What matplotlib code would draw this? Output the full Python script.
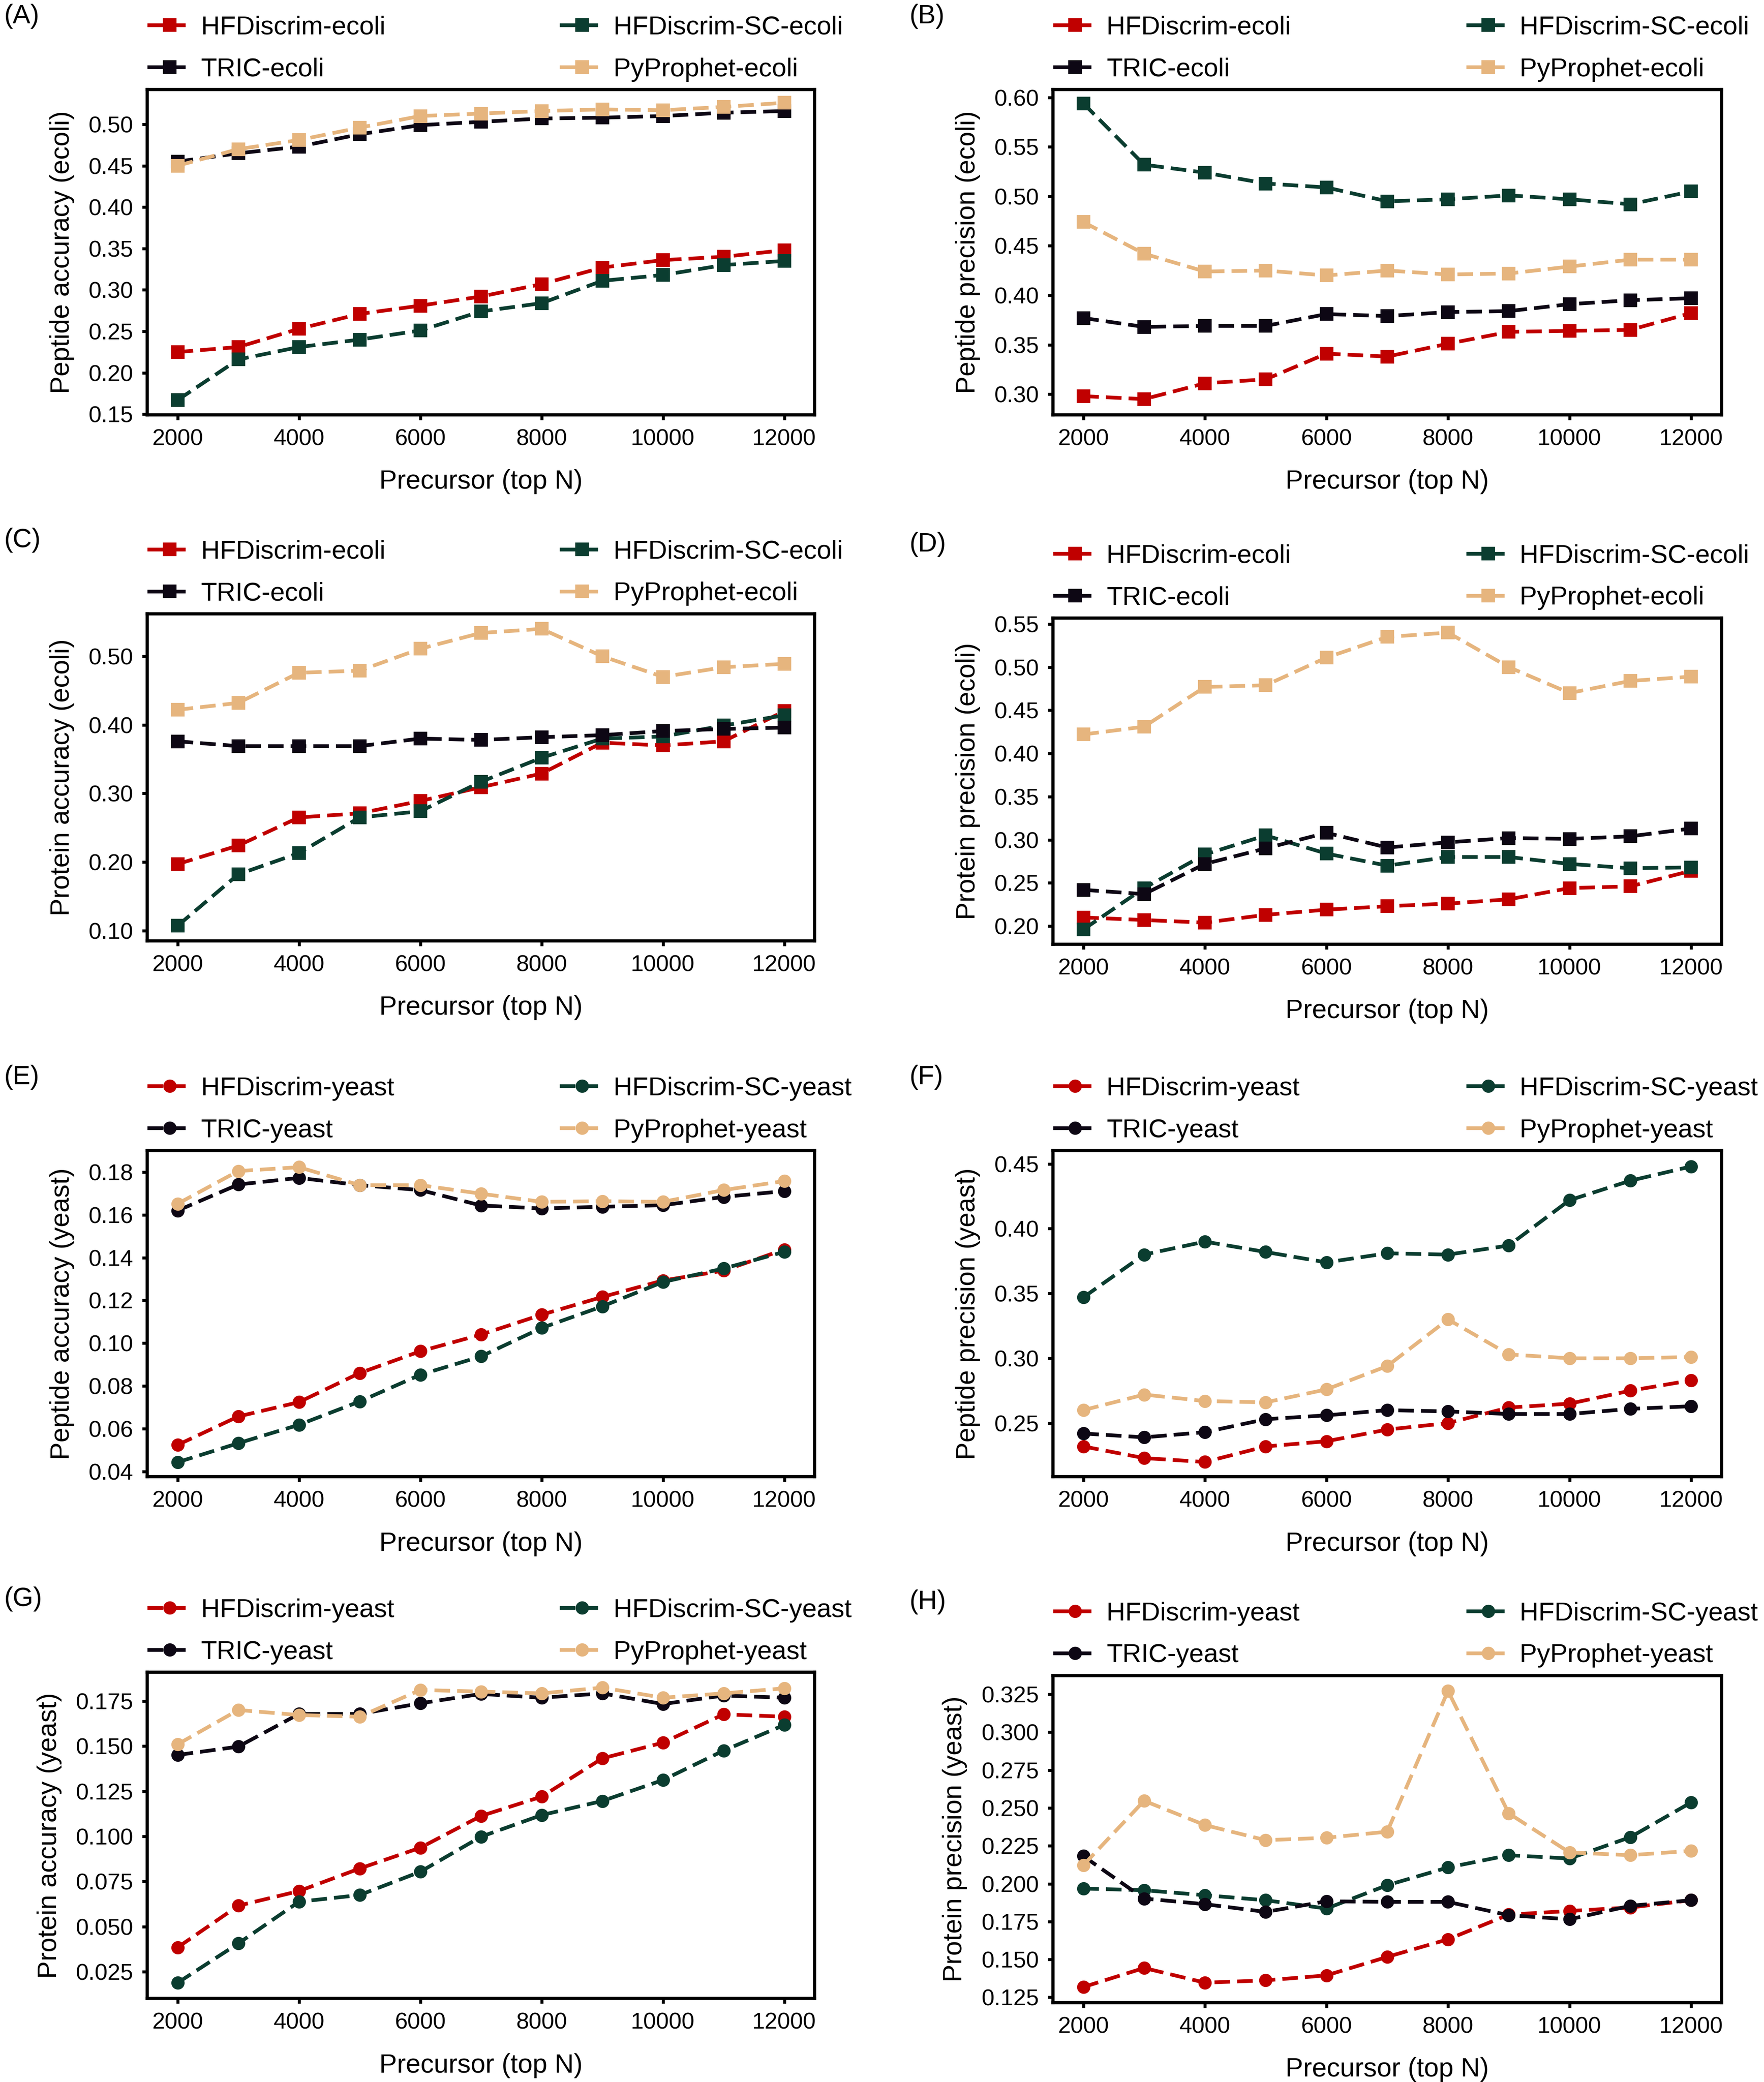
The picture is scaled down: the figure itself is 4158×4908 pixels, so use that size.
import numpy as np
import matplotlib
matplotlib.use("Agg")
import matplotlib.pyplot as plt
from matplotlib.ticker import FormatStrFormatter


plt.rcParams['font.family'] = ['Liberation Sans', 'DejaVu Sans']

# Eixo x comum
precursor = [2000, 3000, 4000, 5000, 6000, 7000, 8000, 9000, 10000, 11000, 12000]

# (A) Peptide accuracy (ecoli)
a_hf = [0.225, 0.231, 0.253, 0.271, 0.281, 0.292, 0.307, 0.327, 0.336, 0.340, 0.348]
a_sc = [0.167, 0.216, 0.231, 0.240, 0.251, 0.274, 0.284, 0.311, 0.318, 0.330, 0.335]
a_tric = [0.455, 0.465, 0.473, 0.488, 0.499, 0.503, 0.507, 0.508, 0.510, 0.514, 0.516]
a_py = [0.450, 0.470, 0.481, 0.496, 0.510, 0.513, 0.516, 0.518, 0.517, 0.521, 0.526]

# (B) Peptide precision (ecoli)
b_hf = [0.298, 0.295, 0.311, 0.315, 0.341, 0.338, 0.351, 0.363, 0.364, 0.365, 0.382]
b_sc = [0.594, 0.532, 0.524, 0.513, 0.509, 0.495, 0.497, 0.501, 0.497, 0.492, 0.505]
b_tric = [0.377, 0.368, 0.369, 0.369, 0.381, 0.379, 0.383, 0.384, 0.391, 0.395, 0.397]
b_py = [0.474, 0.442, 0.424, 0.425, 0.420, 0.425, 0.421, 0.422, 0.429, 0.436, 0.436]

# (C) Protein accuracy (ecoli)
c_hf = [0.197, 0.224, 0.265, 0.271, 0.289, 0.309, 0.329, 0.374, 0.370, 0.376, 0.420]
c_sc = [0.107, 0.182, 0.213, 0.265, 0.274, 0.317, 0.352, 0.380, 0.383, 0.399, 0.414]
c_tric = [0.376, 0.369, 0.369, 0.369, 0.380, 0.378, 0.382, 0.385, 0.391, 0.394, 0.396]
c_py = [0.422, 0.432, 0.476, 0.479, 0.511, 0.534, 0.540, 0.500, 0.470, 0.484, 0.489]

# (D) Protein precision (ecoli)
d_hf = [0.210, 0.207, 0.204, 0.213, 0.219, 0.223, 0.226, 0.231, 0.244, 0.246, 0.264]
d_sc = [0.196, 0.244, 0.283, 0.305, 0.284, 0.270, 0.280, 0.280, 0.272, 0.267, 0.268]
d_tric = [0.242, 0.237, 0.272, 0.290, 0.308, 0.291, 0.297, 0.302, 0.301, 0.304, 0.313]
d_py = [0.422, 0.431, 0.477, 0.479, 0.511, 0.535, 0.540, 0.500, 0.470, 0.484, 0.489]

# (E) Peptide accuracy (yeast)
e_hf = [0.0524, 0.0657, 0.0724, 0.0860, 0.0962, 0.1040, 0.1133, 0.1216, 0.1293, 0.1339, 0.1438]
e_sc = [0.0443, 0.0532, 0.0618, 0.0727, 0.0852, 0.0938, 0.1071, 0.1172, 0.1286, 0.1349, 0.1427]
e_tric = [0.1620, 0.1742, 0.1773, 0.1739, 0.1716, 0.1644, 0.1630, 0.1638, 0.1645, 0.1684, 0.1711]
e_py = [0.1652, 0.1805, 0.1823, 0.1739, 0.1739, 0.1699, 0.1661, 0.1664, 0.1661, 0.1716, 0.1758]

# (F) Peptide precision (yeast)
f_hf = [0.232, 0.223, 0.220, 0.232, 0.236, 0.245, 0.250, 0.262, 0.265, 0.275, 0.283]
f_sc = [0.347, 0.380, 0.390, 0.382, 0.374, 0.381, 0.380, 0.387, 0.422, 0.437, 0.448]
f_tric = [0.242, 0.239, 0.243, 0.253, 0.256, 0.260, 0.259, 0.257, 0.257, 0.261, 0.263]
f_py = [0.260, 0.272, 0.267, 0.266, 0.276, 0.294, 0.330, 0.303, 0.300, 0.300, 0.301]

# (G) Protein accuracy (yeast)
g_hf = [0.0385, 0.0616, 0.0697, 0.0822, 0.0937, 0.1113, 0.1220, 0.1432, 0.1519, 0.1676, 0.1663]
g_sc = [0.0189, 0.0407, 0.0638, 0.0675, 0.0804, 0.0998, 0.1118, 0.1196, 0.1312, 0.1475, 0.1617]
g_tric = [0.1451, 0.1497, 0.1678, 0.1678, 0.1737, 0.1789, 0.1768, 0.1792, 0.1733, 0.1780, 0.1768]
g_py = [0.1510, 0.1700, 0.1672, 0.1663, 0.1811, 0.1802, 0.1792, 0.1824, 0.1768, 0.1792, 0.1820]

# (H) Protein precision (yeast)
h_hf = [0.1318, 0.1444, 0.1347, 0.1362, 0.1395, 0.1517, 0.1633, 0.1796, 0.1820, 0.1843, 0.1891]
h_sc = [0.1968, 0.1957, 0.1924, 0.1891, 0.1836, 0.1990, 0.2107, 0.2188, 0.2166, 0.2307, 0.2536]
h_tric = [0.2182, 0.1902, 0.1865, 0.1814, 0.1884, 0.1880, 0.1880, 0.1792, 0.1765, 0.1854, 0.1891]
h_py = [0.2122, 0.2547, 0.2387, 0.2287, 0.2303, 0.2343, 0.3272, 0.2464, 0.2206, 0.2188, 0.2217]

# Cores das series
cor_hf = '#C00000'
cor_sc = '#0B3D30'
cor_tric = '#0D0714'
cor_py = '#E6B57E'

# Configuracao de cada painel: letra, dados, rotulo, especie, marcador, limites, ticks, formato
paineis = [
    ('(A)', a_hf, a_sc, a_tric, a_py, 'Peptide accuracy (ecoli)', 'ecoli', 's',
     (0.149, 0.542), np.arange(0.15, 0.501, 0.05), '%.2f'),
    ('(B)', b_hf, b_sc, b_tric, b_py, 'Peptide precision (ecoli)', 'ecoli', 's',
     (0.279, 0.608), np.arange(0.30, 0.601, 0.05), '%.2f'),
    ('(C)', c_hf, c_sc, c_tric, c_py, 'Protein accuracy (ecoli)', 'ecoli', 's',
     (0.085, 0.562), np.arange(0.10, 0.501, 0.10), '%.2f'),
    ('(D)', d_hf, d_sc, d_tric, d_py, 'Protein precision (ecoli)', 'ecoli', 's',
     (0.179, 0.557), np.arange(0.20, 0.551, 0.05), '%.2f'),
    ('(E)', e_hf, e_sc, e_tric, e_py, 'Peptide accuracy (yeast)', 'yeast', 'o',
     (0.0375, 0.1901), np.arange(0.04, 0.181, 0.02), '%.2f'),
    ('(F)', f_hf, f_sc, f_tric, f_py, 'Peptide precision (yeast)', 'yeast', 'o',
     (0.2086, 0.4603), np.arange(0.25, 0.451, 0.05), '%.2f'),
    ('(G)', g_hf, g_sc, g_tric, g_py, 'Protein accuracy (yeast)', 'yeast', 'o',
     (0.0102, 0.1909), np.arange(0.025, 0.176, 0.025), '%.3f'),
    ('(H)', h_hf, h_sc, h_tric, h_py, 'Protein precision (yeast)', 'yeast', 'o',
     (0.1215, 0.3373), np.arange(0.125, 0.326, 0.025), '%.3f'),
]

# Posicoes dos eixos na figura (left, bottom, width, height)
posicoes = [
    [0.0835, 0.8007, 0.3783, 0.1563],
    [0.5969, 0.8007, 0.3790, 0.1563],
    [0.0835, 0.5481, 0.3783, 0.1571],
    [0.5969, 0.5465, 0.3790, 0.1567],
    [0.0835, 0.2907, 0.3783, 0.1567],
    [0.5969, 0.2907, 0.3790, 0.1567],
    [0.0835, 0.0401, 0.3783, 0.1567],
    [0.5969, 0.0381, 0.3790, 0.1571],
]


def desenhar_painel(ax, cfg):
    letra, hf, sc, tric, py, ylabel, especie, marcador, ylim, yticks, fmt = cfg
    estilo = dict(linestyle=(0, (4.2, 1.9)), linewidth=2.1, marker=marcador,
                  markersize=6.8 if marcador == 's' else 6.5)

    l_hf, = ax.plot(precursor, hf, color=cor_hf, label='HFDiscrim-' + especie, **estilo)
    l_sc, = ax.plot(precursor, sc, color=cor_sc, label='HFDiscrim-SC-' + especie, **estilo)
    l_tric, = ax.plot(precursor, tric, color=cor_tric, label='TRIC-' + especie, **estilo)
    l_py, = ax.plot(precursor, py, color=cor_py, label='PyProphet-' + especie, **estilo)

    ax.set_xlim(1500, 12500)
    ax.set_ylim(*ylim)
    ax.set_xticks(range(2000, 12001, 2000))
    ax.set_yticks(yticks)
    ax.yaxis.set_major_formatter(FormatStrFormatter(fmt))

    for s in ax.spines.values():
        s.set_linewidth(1.8)
    ax.tick_params(axis='both', direction='out', length=2.8, width=1.7,
                   labelsize=13, pad=5, top=False, right=False)

    ax.set_xlabel('Precursor (top N)', fontsize=15, labelpad=11)
    ax.set_ylabel(ylabel, fontsize=15, labelpad=8)

    # Legenda em duas colunas separadas
    opts = dict(frameon=False, fontsize=14.8, loc='lower left', borderpad=0,
                borderaxespad=0, handlelength=1.7, handletextpad=0.35,
                labelspacing=0.68)
    leg1 = ax.legend([l_hf, l_tric], [l_hf.get_label(), l_tric.get_label()],
                     bbox_to_anchor=(0.0, 1.024), **opts)
    ax.add_artist(leg1)
    ax.legend([l_sc, l_py], [l_sc.get_label(), l_py.get_label()],
              bbox_to_anchor=(0.618, 1.024), **opts)

    # Letra do painel
    ax.text(-0.215, 1.225, letra, transform=ax.transAxes, fontsize=15,
            ha='left', va='center')


fig = plt.figure(figsize=(13.86, 16.36), dpi=300)
for pos, cfg in zip(posicoes, paineis):
    ax = fig.add_axes(pos)
    desenhar_painel(ax, cfg)

fig.savefig('out.png', dpi=300)
